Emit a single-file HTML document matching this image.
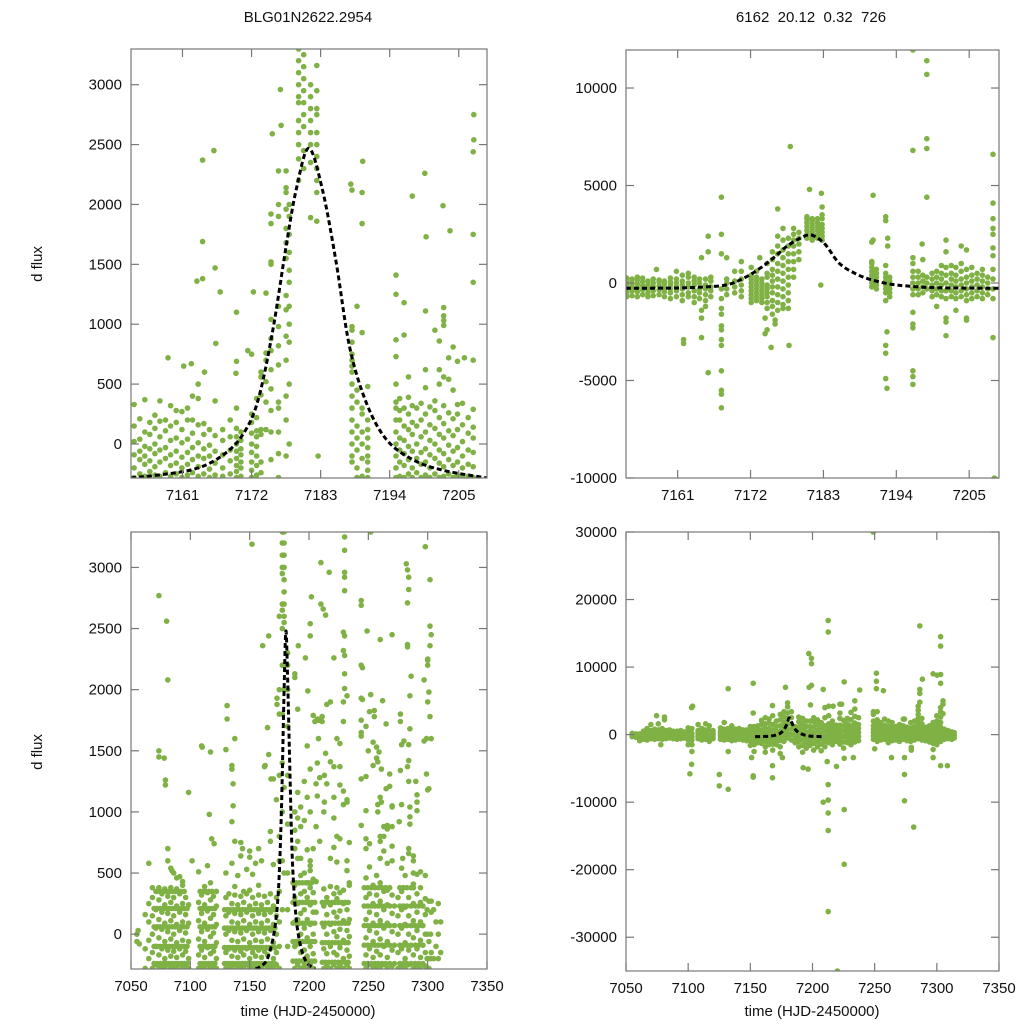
<!DOCTYPE html>
<html><head><meta charset="utf-8"><title>BLG01N2622.2954 light curve</title>
<style>
html,body{margin:0;padding:0;background:#fff;}
svg{display:block;font-family:"Liberation Sans",Arial,sans-serif;}
.tk{font-size:15px;fill:#111;}
</style></head>
<body>
<svg id="chart" width="1024" height="1024" viewBox="0 0 1024 1024" xmlns="http://www.w3.org/2000/svg">
<rect width="1024" height="1024" fill="#fff"/>
<text x="308" y="22" text-anchor="middle" font-size="15" fill="#111">BLG01N2622.2954</text>
<text x="811" y="22" text-anchor="middle" font-size="15" fill="#111" xml:space="preserve">6162  20.12  0.32  726</text>
<text transform="translate(42,264) rotate(-90)" text-anchor="middle" font-size="15" fill="#111">d flux</text>
<text transform="translate(42,752) rotate(-90)" text-anchor="middle" font-size="15" fill="#111">d flux</text>
<text x="308" y="1016" text-anchor="middle" font-size="15" fill="#111">time (HJD-2450000)</text>
<text x="812" y="1016" text-anchor="middle" font-size="15" fill="#111">time (HJD-2450000)</text>
</svg>
<script>
// ---------- tick labels ----------
const zoomXTicks=[7161,7172,7183,7194,7205];
const fullXTicks=[7050,7100,7150,7200,7250,7300,7350];
const smallYTicks=[0,500,1000,1500,2000,2500,3000];
const trYTicks=[-10000,-5000,0,5000,10000];
const brYTicks=[-30000,-20000,-10000,0,10000,20000,30000];

// ---------- model curves ----------
const tlModelT=[7152.8,7162.6,7167.9,7171.1,7173.2,7175.4,7177.5,7179.1,7181.1,7183.3,7185.5,7187.6,7190.3,7193.5,7197.7,7202.5,7209.5];
const tlModelF=[-284,-214,-75,120,398,954,1649,2121,2469,2121,1510,815,342,36,-131,-220,-284];
const trModelT=[7153.2,7160,7164,7168.3,7171,7173.4,7175.5,7177.4,7179.5,7181.2,7183.2,7185.4,7188,7190.4,7193,7195.5,7200,7209.5];
const trModelF=[-270,-260,-220,-100,250,750,1300,1860,2300,2460,2000,1010,450,150,-50,-150,-240,-270];
const blModelT=[7155,7160,7165,7170,7173,7175,7177,7179,7180.5,7182,7184,7186,7189,7193,7198,7205];
const blModelF=[-285,-260,-200,-20,200,500,1100,2000,2480,2100,1300,600,150,-100,-230,-285];
const brModelT=[7153.8,7160,7166,7171,7174,7177,7179.5,7181.4,7184,7187,7192.6,7200,7208.7];
const brModelF=[-300,-280,-230,-60,200,700,1600,2480,1500,600,0,-250,-300];

// ---------- scatter data: [time, dflux] ----------
const tlPoints=[
[7153.3,-280],[7153.3,-200],[7153.3,-90],[7153.3,20],[7153.3,150],[7153.3,330],
[7154.2,-250],[7154.2,-130],[7154.2,-60],[7154.2,40],[7154.2,210],
[7155.0,-270],[7155.0,-170],[7155.0,-100],[7155.0,-20],[7155.0,100],[7155.0,370],
[7155.8,-230],[7155.8,-140],[7155.8,-40],[7155.8,80],[7155.8,180],
[7156.6,-260],[7156.6,-190],[7156.6,-80],[7156.6,0],[7156.6,130],[7156.6,240],
[7157.4,-270],[7157.4,-150],[7157.4,-50],[7157.4,60],[7157.4,190],[7157.4,360],
[7158.3,-240],[7158.3,-120],[7158.3,-30],[7158.3,110],[7158.3,200],
[7159.1,-270],[7159.1,-180],[7159.1,-90],[7159.1,30],[7159.1,150],[7159.1,320],
[7160.0,-250],[7160.0,-160],[7160.0,-60],[7160.0,50],[7160.0,180],[7160.0,280],
[7160.9,-280],[7160.9,-200],[7160.9,-110],[7160.9,10],[7160.9,120],[7160.9,270],
[7161.8,-260],[7161.8,-170],[7161.8,-70],[7161.8,40],[7161.8,200],[7161.8,300],
[7162.6,-240],[7162.6,-130],[7162.6,-30],[7162.6,90],[7162.6,200],[7162.6,400],
[7163.5,-270],[7163.5,-190],[7163.5,-100],[7163.5,10],[7163.5,160],[7163.5,380],
[7164.4,-250],[7164.4,-120],[7164.4,-40],[7164.4,80],[7164.4,170],
[7165.3,-280],[7165.3,-210],[7165.3,-100],[7165.3,-10],[7165.3,120],
[7166.2,-260],[7166.2,-160],[7166.2,-60],[7166.2,70],[7166.2,360],
[7167.4,-270],[7167.4,-200],[7167.4,-90],[7167.4,30],[7167.4,120],
[7168.6,-250],[7168.6,-140],[7168.6,-50],[7168.6,60],[7168.6,200],
[7169.6,-280],[7169.6,-230],[7169.6,-180],[7169.6,-120],[7169.6,-60],[7169.6,0],[7169.6,60],[7169.6,130],[7169.6,300],
[7170.3,-270],[7170.3,-200],[7170.3,-150],[7170.3,-90],[7170.3,-40],[7170.3,30],[7170.3,100],
[7172.0,-280],[7172.0,-220],[7172.0,-150],[7172.0,-70],[7172.0,0],[7172.0,90],[7172.0,180],[7172.0,250],
[7172.8,-260],[7172.8,-180],[7172.8,-100],[7172.8,-20],[7172.8,60],[7172.8,110],[7172.8,220],[7172.8,380],
[7173.5,-240],[7173.5,-150],[7173.5,80],[7173.5,120],[7173.5,410],[7173.5,560],[7173.5,600],
[7174.3,120],[7174.3,350],[7174.3,520],[7174.3,700],[7174.3,760],[7174.3,1260],
[7175.1,-130],[7175.1,100],[7175.1,280],[7175.1,460],[7175.1,620],[7175.1,780],[7175.1,880],[7175.1,1040],[7175.1,1500],[7175.1,1520],[7175.1,1840],[7175.1,1920],
[7176.3,-280],[7176.3,-80],[7176.3,100],[7176.3,300],[7176.3,350],[7176.3,660],[7176.3,820],[7176.3,980],[7176.3,1150],[7176.3,1900],[7176.3,2000],[7176.3,2280],[7175.3,2590],[7176.7,2660],[7176.6,2960],
[7177.5,-100],[7177.5,200],[7177.5,400],[7177.5,700],[7177.5,900],[7177.5,1120],[7177.5,1240],[7177.5,1550],[7177.5,1680],[7177.5,1800],[7177.5,1960],[7177.5,2100],[7177.5,2140],[7177.5,2280],
[7178.0,0],[7178.0,500],[7178.0,850],[7178.0,1000],[7178.0,1150],[7178.0,1350],[7178.0,1450],[7178.0,1600],[7178.0,1750],[7178.0,1900],[7178.0,2000],
[7179.5,2200],[7179.5,2380],[7179.5,2500],[7179.5,2600],[7179.5,2700],[7179.5,2850],[7179.5,2900],[7179.5,3000],[7179.5,3100],[7179.5,3200],[7179.5,3300],
[7180.3,2300],[7180.3,2450],[7180.3,2650],[7180.3,2750],[7180.3,2850],[7180.3,2950],[7180.3,3050],[7180.3,3150],[7180.3,3250],
[7181.4,1890],[7181.4,2350],[7181.4,2500],[7181.4,2600],[7181.4,2700],[7181.4,2800],[7181.4,2900],[7181.4,3000],
[7182.4,1860],[7182.4,2100],[7182.4,2200],[7182.4,2300],[7182.4,2400],[7182.4,2500],[7182.4,2600],[7182.4,2750],[7182.4,2800],[7182.4,2950],[7182.4,3160],[7182.6,-100],
[7158.7,720],[7161.2,650],[7162.4,670],[7163.5,500],[7164.2,2370],[7164.2,1690],[7164.2,1380],[7163.3,1360],[7166,2450],[7166.2,1470],[7166.3,840],[7164.5,600],[7167,1270],[7169.6,1100],[7169.6,690],[7169.5,590],[7172.3,1270],[7171.4,780],[7172,750],
[7188.0,-150],[7188.0,-100],[7188.0,0],[7188.0,100],[7188.0,200],[7188.0,300],[7188.0,400],[7188.0,500],[7188.0,600],[7188.0,650],[7188.0,700],[7188.0,750],[7188.0,850],[7188.0,950],[7188.0,980],[7187.8,2170],[7188.0,2120],
[7188.8,-280],[7188.8,-200],[7188.8,-50],[7188.8,50],[7188.8,150],[7188.8,350],[7188.8,450],[7188.8,1150],
[7189.6,-270],[7189.6,-120],[7189.6,0],[7189.6,100],[7189.6,250],[7189.6,300],[7189.6,930],[7189.6,1840],[7189.6,2100],[7189.7,2360],
[7190.5,-280],[7190.5,-220],[7190.5,-150],[7190.5,-100],[7190.5,-30],[7190.5,50],[7190.5,120],[7190.5,200],[7190.5,480],
[7195.0,-280],[7195.0,-200],[7195.0,-100],[7195.0,0],[7195.0,100],[7195.0,200],[7195.0,300],[7195.0,350],[7195.0,500],[7195.0,730],[7195.0,870],[7195.0,1250],[7195.0,1410],
[7195.6,-270],[7195.6,-150],[7195.6,-50],[7195.6,50],[7195.6,200],[7195.6,280],[7195.6,380],
[7196.3,-280],[7196.3,-180],[7196.3,-80],[7196.3,30],[7196.3,150],[7196.3,300],[7196.3,910],[7196.3,1180],
[7197.0,-250],[7197.0,-130],[7197.0,-20],[7197.0,120],[7197.0,250],[7197.0,390],[7197.0,560],
[7197.6,-280],[7197.6,-200],[7197.6,-60],[7197.6,80],[7197.6,180],[7197.6,320],[7197.6,2070],
[7198.3,-240],[7198.3,-120],[7198.3,0],[7198.3,150],[7198.3,300],
[7199.0,-280],[7199.0,-170],[7199.0,-70],[7199.0,60],[7199.0,200],[7199.0,340],
[7199.7,-260],[7199.7,-150],[7199.7,-40],[7199.7,100],[7199.7,250],[7199.7,470],[7199.7,620],[7199.7,1110],[7199.8,1730],[7199.6,2260],
[7200.4,-280],[7200.4,-200],[7200.4,-90],[7200.4,30],[7200.4,160],[7200.4,310],
[7201.2,-250],[7201.2,-120],[7201.2,0],[7201.2,130],[7201.2,280],[7201.2,360],[7201.2,950],
[7201.9,-280],[7201.9,-160],[7201.9,-50],[7201.9,80],[7201.9,220],[7201.9,500],[7201.9,620],[7201.9,860],
[7202.6,-270],[7202.6,-190],[7202.6,-80],[7202.6,50],[7202.6,170],[7202.6,320],[7202.6,560],[7202.6,990],[7202.6,1030],[7202.6,1070],[7202.6,1140],[7202.5,1990],
[7203.4,-250],[7203.4,-130],[7203.4,-10],[7203.4,110],[7203.4,260],[7203.4,540],[7203.4,720],[7203.6,1780],
[7204.1,-280],[7204.1,-180],[7204.1,-60],[7204.1,70],[7204.1,210],[7204.1,450],[7204.1,810],
[7204.8,-260],[7204.8,-150],[7204.8,-30],[7204.8,120],[7204.8,250],[7204.8,330],[7204.8,690],
[7205.6,-280],[7205.6,-200],[7205.6,-100],[7205.6,20],[7205.6,160],[7205.6,340],[7205.9,720],
[7206.5,-270],[7206.5,-170],[7206.5,-50],[7206.5,90],[7206.5,220],
[7207.3,-280],[7207.3,-190],[7207.3,-70],[7207.3,50],[7207.3,140],[7207.3,290],[7207.3,700],[7207.3,1350],[7207.3,1750],[7207.3,2440],[7207.4,2540],[7207.4,2750]
];

const trPoints=[
[7153.3,-700],[7153.3,-500],[7153.3,-300],[7153.3,-100],[7153.3,100],[7153.3,250],
[7154.1,-650],[7154.1,-400],[7154.1,-200],[7154.1,0],[7154.1,200],
[7154.9,-700],[7154.9,-450],[7154.9,-250],[7154.9,-50],[7154.9,150],[7154.9,300],
[7155.7,-600],[7155.7,-350],[7155.7,-150],[7155.7,50],[7155.7,250],
[7156.5,-700],[7156.5,-500],[7156.5,-300],[7156.5,-100],[7156.5,100],
[7157.3,-650],[7157.3,-400],[7157.3,-200],[7157.3,0],[7157.3,200],[7157.8,700],
[7158.2,-600],[7158.2,-350],[7158.2,-150],[7158.2,50],[7158.2,150],
[7159.0,-700],[7159.0,-450],[7159.0,-250],[7159.0,-50],[7159.0,100],
[7159.9,-800],[7159.9,-500],[7159.9,-300],[7159.9,-100],[7159.9,50],[7159.9,250],
[7160.8,-700],[7160.8,-400],[7160.8,-200],[7160.8,0],[7160.8,200],[7160.8,600],[7161.9,-2900],[7161.9,-3100],
[7161.7,-900],[7161.7,-600],[7161.7,-300],[7161.7,-100],[7161.7,100],[7161.7,400],
[7162.6,-700],[7162.6,-500],[7162.6,-200],[7162.6,0],[7162.6,300],[7162.6,500],
[7163.5,-1000],[7163.5,-700],[7163.5,-400],[7163.5,-100],[7163.5,100],[7163.5,300],[7164.6,1300],[7164.6,-1400],[7164.6,-1800],[7164.6,-2800],
[7164.3,-800],[7164.3,-500],[7164.3,-300],[7164.3,0],[7164.3,200],[7165.6,1600],[7165.6,2400],[7165.6,-4600],
[7165.2,-900],[7165.2,-600],[7165.2,-300],[7165.2,-100],[7165.2,200],[7165.2,-1200],
[7166.0,-700],[7166.0,-400],[7166.0,-200],[7166.0,100],[7166.0,300],
[7167.6,-1300],[7167.6,-1600],[7167.6,-2200],[7167.6,-2400],[7167.6,-2900],[7167.6,-3200],[7167.6,-4500],[7167.6,-5500],[7167.6,-5700],[7167.6,-6400],[7167.6,1500],[7167.6,2500],[7167.6,4400],[7167.6,-800],[7167.6,-300],
[7168.4,-600],[7168.4,-300],[7168.4,0],[7168.4,200],[7168.4,1300],
[7169.6,-500],[7169.6,-200],[7169.6,100],[7169.6,600],
[7170.6,-700],[7170.6,-400],[7170.6,-100],[7170.6,200],[7170.6,1100],[7170.6,600],
[7172.1,-1000],[7172.1,-800],[7172.1,-600],[7172.1,-400],[7172.1,-200],[7172.1,0],[7172.1,200],[7172.1,400],[7172.1,800],[7173.4,1300],
[7172.9,-900],[7172.9,-700],[7172.9,-500],[7172.9,-300],[7172.9,-100],[7172.9,100],[7172.9,300],[7172.9,600],
[7173.7,-1000],[7173.7,-800],[7173.7,-600],[7173.7,-400],[7173.7,-200],[7173.7,0],[7173.7,200],[7174.2,-1800],
[7174.5,-1300],[7174.5,-1000],[7174.5,-700],[7174.5,-500],[7174.5,-300],[7174.5,-100],[7174.5,300],[7174.5,500],[7174.5,1000],[7174.5,-2400],[7174.2,-2600],[7175.1,-3300],
[7175.3,-1600],[7175.3,-1200],[7175.3,-900],[7175.3,-500],[7175.3,-200],[7175.3,100],[7175.3,400],[7175.3,700],[7175.3,1200],[7175.3,1600],[7175.7,-1900],[7175.7,-2100],
[7176.1,-1400],[7176.1,-1000],[7176.1,-600],[7176.1,-200],[7176.1,200],[7176.1,600],[7176.1,1000],[7176.1,1500],[7176.1,1900],[7176.1,2400],[7176.1,3800],
[7176.9,-1300],[7176.9,-1100],[7176.9,-700],[7176.9,-300],[7176.9,100],[7176.9,500],[7176.9,900],[7176.9,1300],[7176.9,1700],[7176.9,2200],[7176.9,2800],
[7177.7,-1300],[7177.7,-900],[7177.7,-500],[7177.7,-100],[7177.7,300],[7177.7,700],[7177.7,1100],[7177.7,1500],[7177.7,1900],[7177.7,2300],[7178.0,7000],[7177.8,-3200],
[7178.5,300],[7178.5,700],[7178.5,1100],[7178.5,1500],[7178.5,1900],[7178.5,2200],[7178.5,2500],[7178.5,2800],
[7179.3,1200],[7179.3,1600],[7179.3,2000],[7179.3,2300],[7179.3,2600],
[7180.5,2300],[7180.5,2500],[7180.5,2700],[7180.5,2900],[7180.5,3100],[7180.5,3300],[7180.5,3400],[7180.9,4800],
[7181.3,2200],[7181.3,2400],[7181.3,2600],[7181.3,2800],[7181.3,3000],[7181.3,3200],[7181.3,3300],
[7182.1,2300],[7182.1,2500],[7182.1,2700],[7182.1,2900],[7182.1,3100],[7182.1,3300],
[7182.8,2200],[7182.8,2400],[7182.8,2600],[7182.8,2800],[7182.8,3000],[7182.8,3300],[7182.8,3500],[7182.8,3900],[7182.7,4600],[7182.6,-100],
[7190.3,-200],[7190.3,0],[7190.3,200],[7190.3,400],[7190.3,600],[7190.3,800],[7190.3,1000],[7190.3,1100],[7190.3,2100],[7190.5,2200],[7190.5,4500],
[7191.0,-300],[7191.0,-100],[7191.0,100],[7191.0,300],[7191.0,500],[7191.0,700],
[7192.4,-500],[7192.4,-300],[7192.4,-100],[7192.4,100],[7192.4,300],[7192.4,500],[7192.4,900],[7192.7,1900],[7192.7,2300],[7192.4,3200],[7192.4,3400],[7192.4,-900],[7192.6,-2500],[7192.4,-3200],[7192.4,-3600],[7192.4,-4900],[7192.6,-5400],
[7193.0,-700],[7193.0,-500],[7193.0,-300],[7193.0,-100],[7193.0,100],[7193.0,300],
[7196.5,12000],[7196.5,6800],[7196.5,1300],[7196.5,1000],[7196.5,600],[7196.5,300],[7196.5,0],[7196.5,-300],[7196.5,-600],[7196.5,-1500],[7196.5,-2100],[7196.5,-2300],[7196.5,-4500],[7196.5,-4800],[7196.5,-5200],
[7197.3,-600],[7197.3,-300],[7197.3,0],[7197.3,300],[7197.3,600],
[7198.0,-500],[7198.0,-200],[7198.0,100],[7198.0,400],[7198.0,1200],[7197.9,2000],
[7198.6,11400],[7198.6,10700],[7198.6,7400],[7198.6,6900],[7198.6,4400],[7198.6,-300],[7198.6,0],[7198.6,300],
[7199.4,-700],[7199.4,-400],[7199.4,-100],[7199.4,200],[7199.4,500],
[7200.1,-600],[7200.1,-300],[7200.1,0],[7200.1,300],[7200.1,600],[7200.1,-1200],
[7200.8,-700],[7200.8,-400],[7200.8,-100],[7200.8,200],[7200.8,500],[7200.8,900],
[7201.5,2200],[7201.5,1600],[7201.5,800],[7201.5,400],[7201.5,0],[7201.5,-400],[7201.5,-800],[7201.5,-1800],[7201.5,-2000],[7201.5,-2700],
[7202.3,-700],[7202.3,-400],[7202.3,-100],[7202.3,200],[7202.3,500],[7202.3,900],
[7203.0,-800],[7203.0,-500],[7203.0,-200],[7203.0,100],[7203.0,400],[7203.0,800],[7203.0,-1400],
[7203.8,-700],[7203.8,-400],[7203.8,-100],[7203.8,200],[7203.8,600],[7203.8,1000],[7203.8,1900],
[7204.6,-900],[7204.6,-600],[7204.6,-300],[7204.6,0],[7204.6,300],[7204.6,700],[7204.6,1700],[7204.6,-1800],[7204.6,-1900],
[7205.4,-800],[7205.4,-500],[7205.4,-200],[7205.4,100],[7205.4,400],[7205.4,800],
[7206.2,-700],[7206.2,-400],[7206.2,-100],[7206.2,200],[7206.2,500],
[7207.0,-800],[7207.0,-500],[7207.0,-200],[7207.0,100],[7207.0,400],[7207.0,700],
[7207.8,-600],[7207.8,-300],[7207.8,0],[7207.8,300],
[7208.6,6600],[7208.6,4100],[7208.6,3300],[7208.6,2800],[7208.6,2500],[7208.6,1800],[7208.6,1400],[7208.6,700],[7208.6,200],[7208.6,-300],[7208.6,-800],[7208.6,-2800],[7208.8,-10000]
];

const blPoints=[
[7055,-60],[7055,0],[7056,30],[7057,-80],[7062,160],[7062,-120],[7062,-280],[7065,580],[7065,-200],[7065,-50],[7065,100],[7065,250],
[7068,-280],[7068,-150],[7068,0],[7068,150],[7068,300],[7068,380],
[7071,-250],[7071,-100],[7071,50],[7071,200],[7071,350],
[7073.5,-280],[7073.5,-170],[7073.5,-30],[7073.5,120],[7073.5,280],[7073.5,380],[7073.5,1500],[7073.5,1450],[7073.5,2770],
[7076,-270],[7076,-120],[7076,40],[7076,180],[7076,330],
[7078.5,-280],[7078.5,-200],[7078.5,-60],[7078.5,90],[7078.5,240],[7078.5,370],[7078,1440],[7079,1220],[7079,1260],[7080,2560],
[7081,-250],[7081,-130],[7081,20],[7081,170],[7081,310],[7081,700],[7081,600],[7081,2080],
[7083.5,-280],[7083.5,-180],[7083.5,-40],[7083.5,110],[7083.5,260],[7083.5,380],[7083.5,540],[7084.5,520],
[7086,-260],[7086,-140],[7086,0],[7086,150],[7086,300],[7086,500],
[7088.5,-280],[7088.5,-190],[7088.5,-70],[7088.5,80],[7088.5,230],[7088.5,370],[7088.5,460],
[7091,-250],[7091,-120],[7091,30],[7091,180],[7091,330],[7091,470],
[7093.5,-280],[7093.5,-170],[7093.5,-50],[7093.5,100],[7093.5,250],[7093.5,400],[7093.5,430],
[7096,-260],[7096,-140],[7096,10],[7096,160],[7096,300],
[7098.5,-280],[7098.5,-200],[7098.5,-60],[7098.5,90],[7098.5,240],[7098.5,1160],[7101.5,600],
[7069.5,-240],[7069.5,-100],[7069.5,60],[7069.5,210],[7072,-240],[7072,-100],[7072,60],[7072,210],[7072,350],
[7074.7,-240],[7074.7,-100],[7074.7,60],[7074.7,210],[7074.7,350],[7077.2,-240],[7077.2,-100],[7077.2,60],[7077.2,210],[7077.2,350],
[7079.8,-240],[7079.8,-100],[7079.8,60],[7079.8,210],[7079.8,350],[7082.3,-240],[7082.3,-100],[7082.3,60],[7082.3,210],[7082.3,350],
[7084.8,-240],[7084.8,-100],[7084.8,60],[7084.8,210],[7084.8,350],[7087.3,-240],[7087.3,-100],[7087.3,60],[7087.3,210],[7087.3,350],
[7089.8,-240],[7089.8,-100],[7089.8,60],[7089.8,210],[7089.8,350],[7092.3,-240],[7092.3,-100],[7092.3,60],[7092.3,210],[7092.3,350],
[7094.8,-240],[7094.8,-100],[7094.8,60],[7094.8,210],[7094.8,350],[7097.3,-240],[7097.3,-100],[7097.3,60],[7097.3,210],
[7107,-280],[7107,-170],[7107,-40],[7107,110],[7107,260],[7107,510],
[7109.5,-260],[7109.5,-130],[7109.5,20],[7109.5,170],[7109.5,320],[7109.5,1540],[7110,1530],
[7112,-280],[7112,-190],[7112,-60],[7112,90],[7112,240],[7112,390],
[7114.5,-250],[7114.5,-110],[7114.5,40],[7114.5,190],[7114.5,340],[7114.5,560],[7116,980],
[7117,-280],[7117,-160],[7117,-20],[7117,130],[7117,280],[7117,420],[7117,1490],
[7119.5,-260],[7119.5,-140],[7119.5,10],[7119.5,160],[7119.5,310],[7118,780],[7120,740],
[7122,-280],[7122,-200],[7122,-70],[7122,80],[7122,230],[7122,350],
[7108.2,-240],[7108.2,-100],[7108.2,60],[7108.2,210],[7108.2,350],[7110.7,-240],[7110.7,-100],[7110.7,60],[7110.7,210],[7110.7,350],
[7113.2,-240],[7113.2,-100],[7113.2,60],[7113.2,210],[7113.2,350],[7115.7,-240],[7115.7,-100],[7115.7,60],[7115.7,210],[7115.7,350],
[7118.2,-240],[7118.2,-100],[7118.2,60],[7118.2,210],[7118.2,350],[7120.7,-240],[7120.7,-100],[7120.7,60],[7120.7,210],
[7130,-280],[7130,-150],[7130,0],[7130,150],[7130,300],[7130,500],[7130,1510],[7131,1760],[7131,1870],
[7132.5,-260],[7132.5,-120],[7132.5,30],[7132.5,180],[7132.5,330],
[7135,-280],[7135,-180],[7135,-50],[7135,100],[7135,250],[7135,580],[7135,1380],[7135,1350],[7136,1230],[7136,1050],[7135,920],
[7137.5,-250],[7137.5,-130],[7137.5,20],[7137.5,170],[7137.5,320],[7137.5,390],[7137.5,760],[7137.5,1600],
[7140,-280],[7140,-190],[7140,-60],[7140,90],[7140,240],[7140,480],
[7142.5,-260],[7142.5,-140],[7142.5,10],[7142.5,160],[7142.5,310],[7142.5,640],[7142.5,750],[7144,700],
[7145,-280],[7145,-170],[7145,-40],[7145,110],[7145,260],[7145,350],
[7147.5,-250],[7147.5,-120],[7147.5,30],[7147.5,180],[7147.5,330],[7147.5,530],
[7150,-280],[7150,-200],[7150,-70],[7150,80],[7150,230],[7150,360],[7152,3190],[7150,630],[7150,680],
[7152.5,-260],[7152.5,-150],[7152.5,0],[7152.5,150],[7152.5,300],[7152.5,490],
[7155,-280],[7155,-180],[7155,-50],[7155,100],[7155,250],[7155,580],
[7157.5,-260],[7157.5,-130],[7157.5,20],[7157.5,170],[7157.5,320],[7157.5,400],[7157.5,700],
[7160,-280],[7160,-190],[7160,-60],[7160,90],[7160,240],[7160,600],[7161,2360],
[7162.5,-250],[7162.5,-140],[7162.5,10],[7162.5,160],[7162.5,310],[7162.5,1370],[7163,1380],
[7165,-280],[7165,-170],[7165,-40],[7165,110],[7165,260],[7165,1690],[7166,2440],[7166,1470],
[7167.5,-260],[7167.5,-120],[7167.5,30],[7167.5,180],[7167.5,330],[7167.5,840],[7168,1270],[7167.5,760],
[7170,-280],[7170,-200],[7170,-70],[7170,80],[7170,230],[7170,570],[7170,1270],
[7172.5,-250],[7172.5,-150],[7172.5,0],[7172.5,150],[7172.5,300],[7172.5,1100],[7173,1880],[7173,1930],
[7128.8,-240],[7128.8,-110],[7128.8,50],[7128.8,200],[7131.2,-240],[7131.2,-110],[7131.2,50],[7131.2,200],
[7133.8,-240],[7133.8,-110],[7133.8,50],[7133.8,200],[7136.2,-240],[7136.2,-110],[7136.2,50],[7136.2,200],
[7138.8,-240],[7138.8,-110],[7138.8,50],[7138.8,200],[7141.2,-240],[7141.2,-110],[7141.2,50],[7141.2,200],
[7143.8,-240],[7143.8,-110],[7143.8,50],[7143.8,200],[7146.2,-240],[7146.2,-110],[7146.2,50],[7146.2,200],
[7148.8,-240],[7148.8,-110],[7148.8,50],[7148.8,200],[7151.2,-240],[7151.2,-110],[7151.2,50],[7151.2,200],
[7153.8,-240],[7153.8,-110],[7153.8,50],[7153.8,200],[7156.2,-240],[7156.2,-110],[7156.2,50],[7156.2,200],
[7158.8,-240],[7158.8,-110],[7158.8,50],[7158.8,200],[7161.2,-240],[7161.2,-110],[7161.2,50],[7161.2,200],
[7163.8,-240],[7163.8,-110],[7163.8,50],[7163.8,200],[7166.2,-240],[7166.2,-110],[7166.2,50],[7166.2,200],
[7168.8,-240],[7168.8,-110],[7168.8,50],[7168.8,200],[7171.2,-240],[7171.2,-110],[7171.2,50],[7171.2,200],
[7175,-280],[7175,-100],[7175,100],[7175,350],[7175,600],[7175,800],[7175,1300],[7175,1800],[7175,2000],[7175,2600],
[7177.5,200],[7177.5,600],[7177.5,1000],[7177.5,1400],[7177.5,1800],[7177.5,2200],[7177.5,2500],[7177.5,2650],[7177.5,2700],[7177.5,2950],[7177.5,3000],[7177.5,3100],[7177.5,3200],[7177.5,3290],
[7179,500],[7179,1200],[7179,2000],[7179,2600],[7179,2700],[7179,2800],[7179,2900],[7179,3000],[7179,3100],[7179,3200],[7179,3290],[7179,2550],
[7182,-100],[7182,200],[7182,500],[7182,900],[7182,1300],[7182,1700],[7182,2000],[7182,2200],[7182,2300],
[7188,-280],[7188,-100],[7188,100],[7188,300],[7188,400],[7188,700],[7188,850],[7188,1000],[7188,2130],[7188,2100],
[7190.5,-250],[7190.5,-80],[7190.5,120],[7190.5,250],[7190.5,620],[7190.5,760],[7190.5,950],[7190.5,1840],[7190.5,1160],[7191,2360],
[7193,-280],[7193,-150],[7193,0],[7193,170],[7193,330],[7193,480],[7193,620],[7193,880],[7193,1040],
[7196,-260],[7196,-130],[7196,50],[7196,200],[7196,350],[7196,500],[7196,930],[7196,1250],[7197,2260],
[7198.5,-280],[7198.5,-180],[7198.5,-30],[7198.5,120],[7198.5,300],[7198.5,420],[7198.5,690],[7198.5,1540],[7198.5,1120],[7199,1990],[7202,2760],
[7201,-250],[7201,-100],[7201,80],[7201,240],[7201,380],[7201,520],[7201,560],[7201,600],[7201,1000],[7201,2540],[7201,2440],[7201,1350],
[7203.5,-280],[7203.5,-160],[7203.5,0],[7203.5,180],[7203.5,340],[7203.5,450],[7203.5,700],[7203.5,1790],[7205,1740],
[7186.5,-220],[7186.5,-60],[7186.5,90],[7186.5,260],[7186.5,420],[7189.2,-220],[7189.2,-60],[7189.2,90],[7189.2,260],[7189.2,420],
[7191.8,-220],[7191.8,-60],[7191.8,90],[7191.8,260],[7191.8,420],[7194.5,-220],[7194.5,-60],[7194.5,90],[7194.5,260],[7194.5,420],
[7197.2,-220],[7197.2,-60],[7197.2,90],[7197.2,260],[7197.2,420],[7199.8,-220],[7199.8,-60],[7199.8,90],[7199.8,260],[7199.8,420],
[7202.2,-220],[7202.2,-60],[7202.2,90],[7202.2,260],[7202.2,420],[7204.8,-220],[7204.8,-60],[7204.8,90],[7204.8,260],
[7206,180],[7206,430],[7206,880],[7207,1760],[7206,1230],[7208,1600],[7208,1750],[7210,3040],[7210,2700],[7207,1400],[7207,1130],
[7209,760],[7209,1280],[7211,1740],[7211,1780],[7212,2660],
[7212.5,-280],[7212.5,-120],[7212.5,60],[7212.5,230],[7212.5,370],[7212.5,1000],[7213,1080],[7214,2610],[7213,1300],[7214,1480],
[7215,-260],[7215,-160],[7215,0],[7215,160],[7215,300],[7215,1230],[7215,1880],
[7218,-280],[7218,-100],[7218,80],[7218,240],[7218,390],[7218,620],[7217,2960],[7218,1900],[7218,1410],
[7221,-250],[7221,-150],[7221,20],[7221,180],[7221,330],[7221,710],[7221,2260],[7221,1120],[7221,950],[7221,1370],
[7223.5,-280],[7223.5,-170],[7223.5,-20],[7223.5,140],[7223.5,290],[7223.5,380],[7223.5,590],[7223.5,800],[7223.5,1600],
[7226,-260],[7226,-110],[7226,40],[7226,190],[7226,340],[7226,1560],[7226,1370],[7226,1220],[7226,780],
[7229,-280],[7229,-200],[7229,-50],[7229,110],[7229,250],[7229,360],[7229,1900],[7229,1740],[7229,2320],[7230,2280],[7229,2470],[7230,2440],[7229,1170],[7229,1060],[7230,3140],[7230,3250],[7230,2960],[7230,2920],[7230,2810],[7230,2130],[7230,2010],
[7232,-250],[7232,-130],[7232,30],[7232,200],[7232,520],[7232,600],[7232,1100],[7232,1080],[7232,1950],
[7234,-280],[7234,-180],[7234,-20],[7234,120],[7234,400],[7234,750],[7234,420],
[7211.2,-230],[7211.2,-70],[7211.2,90],[7211.2,260],[7213.8,-230],[7213.8,-70],[7213.8,90],[7213.8,260],
[7216.5,-230],[7216.5,-70],[7216.5,90],[7216.5,260],[7219.5,-230],[7219.5,-70],[7219.5,90],[7219.5,260],
[7222.2,-230],[7222.2,-70],[7222.2,90],[7222.2,260],[7224.8,-230],[7224.8,-70],[7224.8,90],[7224.8,260],
[7227.5,-230],[7227.5,-70],[7227.5,90],[7227.5,260],[7230.5,-230],[7230.5,-70],[7230.5,90],[7230.5,260],
[7233,-230],[7233,-70],[7233,90],[7233,260],
[7244,2730],[7244,2690],[7244,2200],[7245,2180],[7244,1930],[7245,1920],[7244,1650],[7244,1620],[7244,1750],[7244,1270],[7244,890],
[7248,-280],[7248,-170],[7248,-30],[7248,120],[7248,300],[7248,460],[7248,780],[7248,700],[7248,1010],[7248,1290],[7248,1700],[7249,2480],[7250,1500],
[7251,-250],[7251,-120],[7251,30],[7251,180],[7251,330],[7251,550],[7251,740],[7252,3290],[7251,1820],[7252,1960],
[7254,-280],[7254,-190],[7254,-60],[7254,90],[7254,250],[7254,400],[7254,1380],[7254,1570],[7255,1830],[7255,1780],
[7257,-260],[7257,-140],[7257,10],[7257,160],[7257,320],[7257,480],[7257,1530],[7257,1440],[7258,1410],[7258,1060],[7258,1000],[7260,2410],[7259,1490],
[7260,-280],[7260,-170],[7260,-40],[7260,110],[7260,270],[7260,420],[7260,620],[7260,760],[7260,800],[7260,1120],[7261,1080],[7262,1910],[7261,1350],
[7263,-250],[7263,-100],[7263,50],[7263,200],[7263,350],[7263,680],[7263,800],[7263,880],[7265,1720],[7265,1190],
[7266,-280],[7266,-190],[7266,-60],[7266,90],[7266,240],[7266,360],[7266,580],[7266,860],[7266,890],[7268,1310],[7270,2450],[7268,1210],
[7270,-260],[7270,-130],[7270,20],[7270,170],[7270,320],[7270,600],[7270,1050],[7270,1040],[7270,880],[7270,720],
[7275,-280],[7275,-150],[7275,0],[7275,150],[7275,300],[7277,1800],[7277,1740],[7276,920],[7277,1340],[7278,1550],
[7278,-270],[7278,-120],[7278,50],[7278,200],[7278,350],[7278,540],[7278,1060],[7280,1580],[7279,620],
[7281,-280],[7281,-200],[7281,-70],[7281,80],[7281,220],[7281,480],[7283,2350],[7283,2710],[7283,2370],[7282,3030],[7283,2980],[7284,2820],[7284,2920],[7284,1550],[7284,1420],[7284,1250],[7283,1370],
[7284,-250],[7284,-130],[7284,0],[7284,150],[7284,300],[7284,700],[7284,660],[7285,1680],[7286,2110],[7285,960],[7285,900],[7285,1040],[7285,1950],
[7288,-280],[7288,-170],[7288,-30],[7288,110],[7288,250],[7288,410],[7288,380],[7288,500],[7288,640],[7288,600],
[7291,-260],[7291,-120],[7291,30],[7291,180],[7291,330],[7291,490],[7291,1140],[7291,1080],[7290,1250],[7291,1010],[7297,2080],[7300,2240],[7300,2200],
[7294,-280],[7294,-190],[7294,-50],[7294,100],[7294,260],[7294,380],[7294,510],[7297,1580],[7299,1310],[7300,1180],[7303,2450],[7302,2520],[7298,3170],[7300,1900],[7303,1600],
[7298,-260],[7298,-150],[7298,0],[7298,160],[7298,290],[7298,480],[7301,1190],[7302,2360],[7302,2900],[7302,1780],[7301,1980],[7300,2250],[7299,1600],
[7301,-280],[7301,-200],[7301,-60],[7301,270],[7303,270],[7303,180],[7303,-150],
[7246.5,-240],[7246.5,-90],[7246.5,70],[7246.5,230],[7246.5,380],[7249.5,-240],[7249.5,-90],[7249.5,70],[7249.5,230],[7249.5,380],
[7252.5,-240],[7252.5,-90],[7252.5,70],[7252.5,230],[7252.5,380],[7255.5,-240],[7255.5,-90],[7255.5,70],[7255.5,230],[7255.5,380],
[7258.5,-240],[7258.5,-90],[7258.5,70],[7258.5,230],[7258.5,380],[7261.5,-240],[7261.5,-90],[7261.5,70],[7261.5,230],[7261.5,380],
[7264.5,-240],[7264.5,-90],[7264.5,70],[7264.5,230],[7264.5,380],[7268,-240],[7268,-90],[7268,70],[7268,230],[7268,380],
[7272,-240],[7272,-90],[7272,70],[7272,230],[7276.5,-240],[7276.5,-90],[7276.5,70],[7276.5,230],[7276.5,380],
[7279.5,-240],[7279.5,-90],[7279.5,70],[7279.5,230],[7279.5,380],[7282.5,-240],[7282.5,-90],[7282.5,70],[7282.5,230],[7282.5,380],
[7286,-240],[7286,-90],[7286,70],[7286,230],[7286,380],[7289.5,-240],[7289.5,-90],[7289.5,70],[7289.5,230],
[7292.5,-240],[7292.5,-90],[7292.5,70],[7292.5,230],[7296,-240],[7296,-90],[7296,70],[7296,230],
[7299.5,-200],[7299.5,0],[7299.5,200],[7302.5,-200],[7302.5,0],[7305,-200],[7305,200],[7307,-100],[7307,100],[7309,-200],[7309,0],[7309,250],[7311,-150],[7311,100]
];

const brPoints=[
[7055,-300],[7055,0],[7055,200],[7058,-400],[7058,-100],[7058,100],
[7061,-900],[7061,-600],[7061,-200],[7061,100],
[7064,-700],[7064,-300],[7064,0],[7064,300],[7064,500],
[7067,-800],[7067,-400],[7067,-100],[7067,200],[7067,500],[7067,900],
[7070,-600],[7070,-300],[7070,0],[7070,300],[7070,600],[7070,1500],
[7073,-700],[7073,-300],[7073,0],[7073,200],[7073,400],[7073,800],
[7076,-600],[7076,-200],[7076,100],[7076,400],[7076,700],[7076,1600],
[7079,-700],[7079,-400],[7079,-100],[7079,200],[7079,500],[7079,900],
[7082,-600],[7082,-300],[7082,0],[7082,300],[7082,600],
[7085,-500],[7085,-200],[7085,100],[7085,400],[7085,700],
[7088,-600],[7088,-300],[7088,0],[7088,300],[7088,500],
[7091,-700],[7091,-400],[7091,-100],[7091,200],[7091,500],
[7094,-600],[7094,-300],[7094,0],[7094,300],[7094,600],
[7097,-500],[7097,-200],[7097,100],[7097,400],
[7100,-1500],[7100,-800],[7100,-300],[7100,200],[7100,600],[7100,1000],
[7103,-2500],[7103,-1500],[7103,-800],[7103,-300],[7103,200],[7103,900],
[7108,-600],[7108,-300],[7108,0],[7108,300],[7108,600],[7108,1500],
[7111,-800],[7111,-400],[7111,-100],[7111,200],[7111,500],[7111,900],
[7114,-700],[7114,-300],[7114,0],[7114,300],[7114,700],[7114,1600],
[7117,-1000],[7117,-600],[7117,-200],[7117,200],[7117,600],[7117,1300],
[7120,-600],[7120,-300],[7120,0],[7120,300],[7120,600],
[7126,-700],[7126,-400],[7126,-100],[7126,200],[7126,500],[7126,1000],
[7129,-800],[7129,-400],[7129,0],[7129,400],[7129,800],[7129,1800],
[7132,-700],[7132,-300],[7132,100],[7132,500],[7132,900],
[7135,-900],[7135,-500],[7135,-100],[7135,300],[7135,700],[7135,1300],
[7138,-800],[7138,-400],[7138,0],[7138,400],[7138,800],
[7141,-700],[7141,-300],[7141,100],[7141,500],[7141,900],
[7144,-800],[7144,-400],[7144,0],[7144,300],[7144,700],
[7147,-900],[7147,-500],[7147,-100],[7147,300],[7147,700],
[7150,-1600],[7150,-900],[7150,-400],[7150,0],[7150,400],[7150,800],[7150,1200],
[7153,-2500],[7153,-1500],[7153,-800],[7153,-300],[7153,200],[7153,700],[7153,1200],
[7156,-1200],[7156,-700],[7156,-200],[7156,300],[7156,800],[7156,1300],
[7159,-1300],[7159,-800],[7159,-300],[7159,200],[7159,700],[7159,1500],[7159,2100],
[7162,-2600],[7162,-1800],[7162,-1000],[7162,-400],[7162,200],[7162,900],[7162,1600],[7162,2500],
[7165,-1500],[7165,-900],[7165,-300],[7165,300],[7165,900],[7165,1700],[7165,2300],
[7168,-2300],[7168,-1400],[7168,-700],[7168,0],[7168,700],[7168,1500],
[7171,-1500],[7171,-800],[7171,-200],[7171,500],[7171,1200],[7171,2000],
[7174,-2800],[7174,-1800],[7174,-900],[7174,-200],[7174,500],[7174,1300],[7174,2200],[7174,3000],
[7177,-1000],[7177,-300],[7177,400],[7177,1100],[7177,1800],[7177,2600],[7177,3400],
[7180,-500],[7180,200],[7180,900],[7180,1600],[7180,2400],[7180,3200],[7180,4100],[7180,4700],
[7183,-800],[7183,0],[7183,800],[7183,1600],[7183,2500],[7183,3400],
[7186,-1200],[7186,-600],[7186,0],[7186,600],[7186,1200],
[7189,-1800],[7189,-1000],[7189,-300],[7189,400],[7189,1100],[7189,1900],[7189,2600],
[7192,-2600],[7192,-1600],[7192,-800],[7192,0],[7192,800],[7192,1600],[7192,2400],
[7195,-2000],[7195,-1200],[7195,-400],[7195,400],[7195,1200],[7195,2000],
[7198,-1600],[7198,-900],[7198,-200],[7198,500],[7198,1200],[7198,2000],
[7201,-2300],[7201,-1300],[7201,-500],[7201,300],[7201,1100],[7201,1900],[7201,2500],
[7204,-1800],[7204,-1000],[7204,-200],[7204,600],[7204,1400],[7204,2200],
[7207,-2400],[7207,-1400],[7207,-600],[7207,200],[7207,1000],[7207,1800],
[7210,-1800],[7210,-1000],[7210,-300],[7210,500],[7210,1300],[7210,2500],[7210,4000],
[7213,-1200],[7213,-500],[7213,200],[7213,900],[7213,1600],[7213,2800],[7213,4200],
[7216,-1500],[7216,-800],[7216,-100],[7216,600],[7216,1300],[7216,2000],
[7219,-1000],[7219,-400],[7219,200],[7219,800],[7219,1400],
[7222,-1400],[7222,-700],[7222,0],[7222,700],[7222,1400],[7222,2400],[7222,3200],[7222,4500],
[7225,-2000],[7225,-1100],[7225,-300],[7225,500],[7225,1300],[7225,2100],
[7228,-1200],[7228,-500],[7228,200],[7228,900],[7228,1600],[7228,2400],
[7231,-1500],[7231,-800],[7231,-100],[7231,600],[7231,1300],[7231,2200],[7231,3300],
[7234,-1100],[7234,-400],[7234,300],[7234,1000],[7234,1700],[7234,2700],[7234,3800],
[7237,-900],[7237,-300],[7237,300],[7237,900],[7237,1500],[7237,2500],
[7249,-700],[7249,-200],[7249,300],[7249,800],[7249,1300],[7249,2000],[7249,3000],[7249,3400],
[7252,-1000],[7252,-500],[7252,0],[7252,500],[7252,1000],[7252,1600],[7252,2200],[7252,3400],
[7255,-800],[7255,-300],[7255,200],[7255,700],[7255,1200],[7255,1800],
[7258,-700],[7258,-200],[7258,300],[7258,800],[7258,1400],[7258,2300],
[7261,-1200],[7261,-600],[7261,0],[7261,600],[7261,1200],[7261,2000],
[7264,-900],[7264,-400],[7264,100],[7264,600],[7264,1100],[7264,1800],
[7267,-800],[7267,-300],[7267,200],[7267,700],[7267,1200],
[7270,-1000],[7270,-500],[7270,0],[7270,500],[7270,1000],[7270,1500],
[7273,-700],[7273,-200],[7273,300],[7273,800],[7273,1300],[7273,2300],
[7276,-900],[7276,-400],[7276,100],[7276,600],[7276,1100],
[7279,-1000],[7279,-500],[7279,0],[7279,500],[7279,1000],[7279,1800],
[7282,-800],[7282,-300],[7282,200],[7282,700],[7282,1200],[7282,2000],
[7285,-600],[7285,0],[7285,600],[7285,1200],[7285,1800],[7285,2400],[7285,3000],[7285,3600],[7285,4200],
[7288,-800],[7288,-200],[7288,400],[7288,1000],[7288,1600],[7288,2400],
[7291,-900],[7291,-400],[7291,100],[7291,600],[7291,1100],
[7294,-1100],[7294,-500],[7294,100],[7294,700],[7294,1300],
[7297,-1300],[7297,-600],[7297,0],[7297,600],[7297,1200],[7297,1800],
[7300,-1500],[7300,-800],[7300,-100],[7300,600],[7300,1300],[7300,2000],[7300,2800],
[7303,-1000],[7303,-300],[7303,400],[7303,1100],[7303,1800],[7303,2600],[7303,3400],[7303,4000],
[7306,-700],[7306,-200],[7306,300],[7306,800],
[7309,-600],[7309,-200],[7309,200],[7309,600],
[7312,-700],[7312,-300],[7312,100],[7312,400],[7314,-500],[7314,-100],[7314,300],
[7074.6,2800],[7081,2600],[7081,2200],[7078,-1500],[7102.8,-4400],[7101.4,-5800],[7103.6,4200],[7102.8,4000],
[7125,-5900],[7125,-7600],[7132.2,-8100],[7132.2,6800],[7132.2,-2500],[7152.3,7600],[7152.3,3200],[7152.3,-6100],[7151,-3400],[7152.3,-6300],
[7167.8,-4600],[7167.8,-6400],[7167.8,4300],[7178.3,7000],[7175.8,-3400],[7168,2800],
[7197,12000],[7199.2,11300],[7199.2,10500],[7199.2,7300],[7197.3,7000],[7198.4,4400],[7192.5,-4900],[7196.5,-5100],
[7208.6,6700],[7208.6,-10000],[7212.6,-9700],[7212.6,-11600],[7212.6,-14200],[7212.6,-26200],[7212.6,16900],[7212.6,15200],[7212.6,-7400],[7211.8,-4000],
[7216.6,4200],[7219.3,-4700],[7220,-35000],[7225.5,-19200],[7225.5,-11100],[7225.5,7800],[7225.5,-3500],[7223.4,4500],[7232.8,-3400],[7234,5000],[7238,6600],
[7251.4,9100],[7251.4,7900],[7251.4,6800],[7250,-2100],[7257,6500],[7248.8,30000],
[7263.5,-3400],[7274,-3400],[7274,-5900],[7274,-9800],[7274,2300],[7281.4,-13700],[7279.5,-1900],[7279.5,-2300],
[7286.3,16100],[7288.4,8200],[7286.3,6700],[7286.3,6100],[7286.3,4800],
[7297,9000],[7300.2,8800],[7303,14500],[7303,13100],[7303,7600],[7303,8900],[7297,-2200],[7297,-3400],[7303,-4600],[7308.5,-4600],
[7305,5000],[7305,4500],[7305,3100]
];

// ---------- panel layout ----------
const NS="http://www.w3.org/2000/svg";
const svg=document.getElementById('chart');
const panels=[
 {key:'tl',x0:131,x1:487,y0:49,y1:478,t0:7152.8,t1:7209.5,f0:-284,f1:3298,xt:zoomXTicks,yt:smallYTicks,pts:tlPoints,mT:tlModelT,mF:tlModelF},
 {key:'tr',x0:626,x1:999,y0:50,y1:478,t0:7153.2,t1:7209.5,f0:-10000,f1:11950,xt:zoomXTicks,yt:trYTicks,pts:trPoints,mT:trModelT,mF:trModelF},
 {key:'bl',x0:131,x1:487,y0:532,y1:969,t0:7050,t1:7350,f0:-285,f1:3290,xt:fullXTicks,yt:smallYTicks,pts:blPoints,mT:blModelT,mF:blModelF},
 {key:'br',x0:626,x1:999,y0:532,y1:971,t0:7050,t1:7350,f0:-35000,f1:30000,xt:fullXTicks,yt:brYTicks,pts:brPoints,mT:brModelT,mF:brModelF}
];
function mk(tag,attrs,parent){const e=document.createElementNS(NS,tag);for(const k in attrs)e.setAttribute(k,attrs[k]);(parent||svg).appendChild(e);return e;}

panels.forEach(p=>{
 const xs=t=>p.x0+(t-p.t0)/(p.t1-p.t0)*(p.x1-p.x0);
 const ys=f=>p.y1-(f-p.f0)/(p.f1-p.f0)*(p.y1-p.y0);
 const g=mk('g',{});
 
 
 const defs=mk('defs',{},g);
 const cp=mk('clipPath',{id:'clip-'+p.key},defs);
 mk('rect',{x:p.x0,y:p.y0,width:p.x1-p.x0,height:p.y1-p.y0},cp);
 const pg=mk('g',{'clip-path':'url(#clip-'+p.key+')',fill:'#7fb145'},g);
 
 
 p.pts.forEach(d=>{
  const c=mk('circle',{cx:xs(d[0]).toFixed(1),cy:Math.min(p.y1,Math.max(p.y0,ys(d[1]))).toFixed(1),r:2.8},pg);
  
  
 });
 const P=p.mT.map((t,i)=>[xs(t),ys(p.mF[i])]);
 let dstr='M'+P[0][0].toFixed(1)+','+P[0][1].toFixed(1);
 for(let i=0;i<P.length-1;i++){
  const a=P[Math.max(0,i-1)],b=P[i],c=P[i+1],e=P[Math.min(P.length-1,i+2)];
  const c1=[b[0]+(c[0]-a[0])/6,b[1]+(c[1]-a[1])/6],c2=[c[0]-(e[0]-b[0])/6,c[1]-(e[1]-b[1])/6];
  dstr+=' C'+c1[0].toFixed(1)+','+c1[1].toFixed(1)+' '+c2[0].toFixed(1)+','+c2[1].toFixed(1)+' '+c[0].toFixed(1)+','+c[1].toFixed(1);
 }
 const curve=mk('path',{d:dstr,fill:'none',stroke:'#000','stroke-width':3,'stroke-dasharray':'5,3','clip-path':'url(#clip-'+p.key+')'},g);
 
 
 const fr=mk('rect',{x:p.x0,y:p.y0,width:p.x1-p.x0,height:p.y1-p.y0,fill:'none',stroke:'#777','stroke-width':1.2},g);
 
 
 p.xt.forEach(t=>{
  const x=xs(t);
  mk('line',{x1:x,x2:x,y1:p.y1,y2:p.y1-8,stroke:'#777','stroke-width':1.2},g);
  mk('line',{x1:x,x2:x,y1:p.y0,y2:p.y0+8,stroke:'#777','stroke-width':1.2},g);
  const tx=mk('text',{x:x,y:p.y1+22,'text-anchor':'middle',class:'tk'},g);
  tx.textContent=t;
  
  
 });
 p.yt.forEach(f=>{
  const y=ys(f);
  mk('line',{x1:p.x0,x2:p.x0+8,y1:y,y2:y,stroke:'#777','stroke-width':1.2},g);
  mk('line',{x1:p.x1,x2:p.x1-8,y1:y,y2:y,stroke:'#777','stroke-width':1.2},g);
  const ty=mk('text',{x:p.x0-9,y:y+5,'text-anchor':'end',class:'tk'},g);
  ty.textContent=f;
  
  
 });
});
</script>
</body></html>
